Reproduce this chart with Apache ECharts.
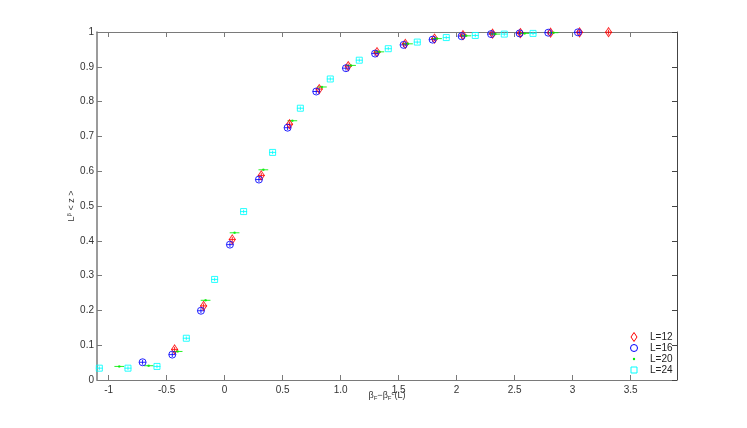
<!DOCTYPE html>
<html>
<head>
<meta charset="utf-8">
<script src="https://cdn.jsdelivr.net/npm/echarts@6/dist/echarts.min.js"></script>
<style>
  html, body { margin: 0; padding: 0; background: #fff; }
  #chart { width: 747px; height: 428px; }
</style>
</head>
<body>
<div id="chart"></div>
<script>
// x = beta_F - beta_F^c(L), y = L^beta <z>
const l12X = [-0.431, -0.181, 0.066, 0.316, 0.560, 0.816, 1.066, 1.314, 1.558, 1.810, 2.055, 2.31, 2.55, 2.81, 3.06, 3.31];
const l12Y = [0.088, 0.213, 0.404, 0.588, 0.735, 0.836, 0.902, 0.942, 0.966, 0.981, 0.991, 0.995, 0.997, 0.998, 0.999, 0.9995];

const l16X = [-0.707, -0.451, -0.204, 0.046, 0.296, 0.543, 0.790, 1.046, 1.297, 1.543, 1.793, 2.043, 2.297, 2.543, 2.79, 3.046];
const l16Y = [0.051, 0.073, 0.199, 0.389, 0.576, 0.725, 0.829, 0.896, 0.938, 0.963, 0.978, 0.988, 0.994, 0.996, 0.998, 0.999];

const l20X = [-0.908, -0.655, -0.405, -0.164, 0.086, 0.334, 0.584, 0.839, 1.090, 1.334, 1.581, 1.831, 2.083, 2.334, 2.586, 2.836];
const l20Y = [0.039, 0.041, 0.082, 0.229, 0.423, 0.604, 0.745, 0.842, 0.904, 0.943, 0.966, 0.981, 0.989, 0.994, 0.996, 0.998];

const l24X = [-1.08, -0.833, -0.583, -0.330, -0.086, 0.164, 0.414, 0.653, 0.911, 1.161, 1.411, 1.661, 1.911, 2.161, 2.411, 2.659];
const l24Y = [0.034, 0.034, 0.039, 0.120, 0.289, 0.484, 0.654, 0.781, 0.865, 0.919, 0.952, 0.971, 0.984, 0.990, 0.994, 0.996];

// error bar half widths per series (L=12, 16, 20, 24)
const errX = [0.03, 0.03, 0.042, 0.03];
const errY = [0.007, 0.007, 0, 0.005];

const seriesNames = ['L=12', 'L=16', 'L=20', 'L=24'];
const xTicks = [-1, -0.5, 0, 0.5, 1, 1.5, 2, 2.5, 3, 3.5];
const xTickLabels = ['-1', '-0.5', '0', '0.5', '1.0', '1.5', '2', '2.5', '3', '3.5'];
const yTicks = [0, 0.1, 0.2, 0.3, 0.4, 0.5, 0.6, 0.7, 0.8, 0.9, 1];
const yTickLabels = ['0', '0.1', '0.2', '0.3', '0.4', '0.5', '0.6', '0.7', '0.8', '0.9', '1'];

const colors = ['#ff0000', '#0000ff', '#00ee00', '#00ffff'];
const symbols = ['diamond', 'circle', 'circle', 'rect'];
const symbolSizes = [[6, 9], 7, 2.5, 6];
const allX = [l12X, l16X, l20X, l24X];
const allY = [l12Y, l16Y, l20Y, l24Y];

const chart = echarts.init(document.getElementById('chart'));

const font = 'Liberation Sans, Arial, sans-serif';
const axisColor = '#7a7a7a';

const series = [];
seriesNames.forEach((name, i) => {
  const pts = allX[i].map((x, k) => [x, allY[i][k], errX[i], errY[i]]);
  series.push({
    name: name + ' err',
    type: 'custom',
    silent: true,
    data: pts,
    z: 2,
    renderItem: function (params, api) {
      const x = api.value(0);
      const y = api.value(1);
      const ex = api.value(2);
      const ey = api.value(3);
      const a = api.coord([x - ex, y]);
      const b = api.coord([x + ex, y]);
      const c = api.coord([x, y - ey]);
      const d = api.coord([x, y + ey]);
      const st = { stroke: colors[i], lineWidth: 1, opacity: 0.85 };
      const children = [
        { type: 'line', shape: { x1: a[0], y1: a[1], x2: b[0], y2: b[1] }, style: st }
      ];
      if (ey > 0) {
        children.push({ type: 'line', shape: { x1: c[0], y1: c[1], x2: d[0], y2: d[1] }, style: st });
      }
      return { type: 'group', children: children };
    }
  });
  series.push({
    name: name,
    type: 'scatter',
    symbol: symbols[i],
    symbolSize: symbolSizes[i],
    z: 3,
    data: allX[i].map((x, k) => [x, allY[i][k]]),
    itemStyle: i === 2
      ? { color: colors[i] }
      : { color: 'rgba(255,255,255,0)', borderColor: colors[i], borderWidth: 1, opacity: 0.85 }
  });
});

// legend drawn as graphic (bottom-right box, MATLAB style)
const legendX = 634;
const legendY = 337;
const legendStep = 11;
const legendGraphics = [];
seriesNames.forEach((name, i) => {
  const cy = legendY + i * legendStep;
  let icon;
  if (i === 0) {
    icon = { type: 'polygon', shape: { points: [[legendX, cy - 4.5], [legendX + 3, cy], [legendX, cy + 4.5], [legendX - 3, cy]] },
      style: { fill: 'none', stroke: colors[0], lineWidth: 1 } };
  } else if (i === 1) {
    icon = { type: 'circle', shape: { cx: legendX, cy: cy, r: 3.5 }, style: { fill: 'none', stroke: colors[1], lineWidth: 1 } };
  } else if (i === 2) {
    icon = { type: 'circle', shape: { cx: legendX, cy: cy, r: 1.2 }, style: { fill: colors[2] } };
  } else {
    icon = { type: 'rect', shape: { x: legendX - 3, y: cy - 3, width: 6, height: 6 }, style: { fill: 'none', stroke: colors[3], lineWidth: 1 } };
  }
  legendGraphics.push(icon);
  legendGraphics.push({
    type: 'text', x: legendX + 16, y: cy,
    style: { text: name, fontFamily: font, fontSize: 10, fill: '#222', verticalAlign: 'middle' }
  });
});

const option = {
  backgroundColor: '#ffffff',
  animation: false,
  grid: { left: 97, right: 70, top: 32, bottom: 48 },
  graphic: legendGraphics,
  xAxis: [
    {
      type: 'value',
      min: -1.1,
      max: 3.9,
      position: 'bottom',
      splitLine: { show: false },
      axisLine: { onZero: false, lineStyle: { color: axisColor, width: 1 } },
      axisTick: { inside: true, length: 5, customValues: xTicks, lineStyle: { color: axisColor } },
      axisLabel: {
        customValues: xTicks,
        margin: 5,
        fontFamily: font,
        fontSize: 10,
        color: '#333',
        formatter: (v) => xTickLabels[xTicks.findIndex((t) => Math.abs(t - v) < 1e-9)]
      },
      name: '{n|β}{s|F}{n|−β}{s|F}{p|c}{n|(L)}',
      nameLocation: 'middle',
      nameGap: 10,
      nameMoveOverlap: false,
      nameTextStyle: {
        rich: {
          n: { fontFamily: font, fontSize: 9, color: '#333' },
          s: { fontFamily: font, fontSize: 6, color: '#333', verticalAlign: 'bottom', padding: [5, 0, 0, 0] },
          p: { fontFamily: font, fontSize: 6, color: '#333', verticalAlign: 'top', padding: [0, 0, 5, 0] }
        }
      }
    },
    {
      type: 'value',
      min: -1.1,
      max: 3.9,
      position: 'top',
      splitLine: { show: false },
      axisLine: { onZero: false, lineStyle: { color: axisColor, width: 1 } },
      axisTick: { inside: true, length: 5, customValues: xTicks, lineStyle: { color: axisColor } },
      axisLabel: { show: false }
    }
  ],
  yAxis: [
    {
      type: 'value',
      min: 0,
      max: 1,
      position: 'left',
      splitLine: { show: false },
      axisLine: { onZero: false, lineStyle: { color: axisColor, width: 1.5 } },
      axisTick: { inside: true, length: 5, customValues: yTicks, lineStyle: { color: axisColor } },
      axisLabel: {
        customValues: yTicks,
        margin: 3,
        fontFamily: font,
        fontSize: 10,
        color: '#333',
        formatter: (v) => yTickLabels[yTicks.findIndex((t) => Math.abs(t - v) < 1e-9)]
      },
      name: '{n|L}{p|β}{n| < z >}',
      nameLocation: 'middle',
      nameRotate: 90,
      nameGap: 20,
      nameMoveOverlap: false,
      nameTextStyle: {
        rich: {
          n: { fontFamily: font, fontSize: 9, color: '#333' },
          p: { fontFamily: font, fontSize: 6, color: '#333', verticalAlign: 'top', padding: [0, 0, 5, 0] }
        }
      }
    },
    {
      type: 'value',
      min: 0,
      max: 1,
      position: 'right',
      splitLine: { show: false },
      axisLine: { onZero: false, lineStyle: { color: '#444', width: 1 } },
      axisTick: { inside: true, length: 5, customValues: yTicks, lineStyle: { color: '#444' } },
      axisLabel: { show: false }
    }
  ],
  series: series
};

chart.setOption(option);
</script>
</body>
</html>
